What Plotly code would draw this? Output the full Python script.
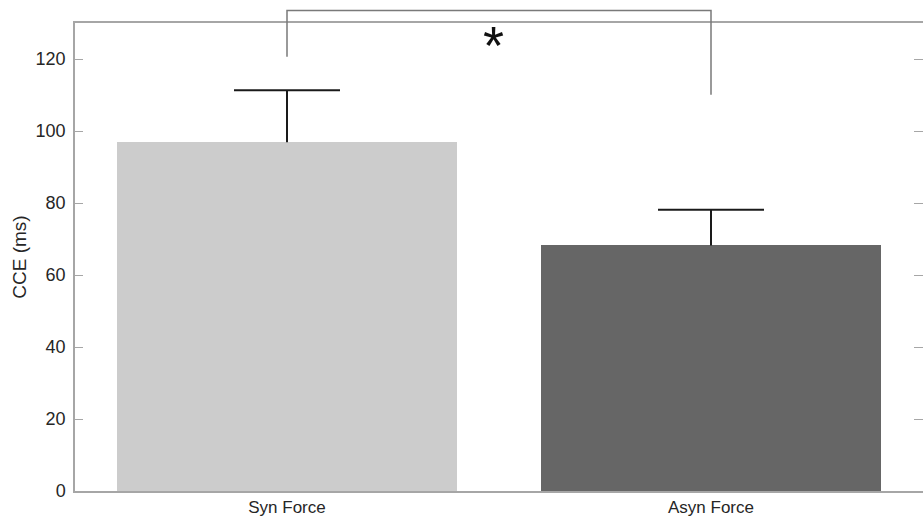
import plotly.graph_objects as go

categories = ["Syn Force", "Asyn Force"]
means = [96.9, 68.2]
errors = [14.4, 9.9]
bar_colors = ["#cccccc", "#666666"]
y_ticks = [0, 20, 40, 60, 80, 100, 120]
y_range = [0, 130]
x_range = [0.5, 2.5]
positions = [1, 2]
bracket_top = 133.5
bracket_left_bottom = 120.6
bracket_right_bottom = 110.1
star_label = "*"
star_pos = (1.486, 124.0)
cap_half = 0.125

FONT = "Liberation Sans, Arial, Helvetica, sans-serif"
AXIS_GRAY = "#a6a6a6"
TEXT = "#262626"

fig = go.Figure()
fig.add_trace(go.Bar(
    x=positions, y=means, width=0.8,
    marker=dict(color=bar_colors, line=dict(width=0)),
    showlegend=False, hoverinfo="skip",
))

# upward error bars (stem + cap), built from the data arrays
ex, ey = [], []
for p, m, e in zip(positions, means, errors):
    ex += [p, p, None, p - cap_half, p + cap_half, None]
    ey += [m, m + e, None, m + e, m + e, None]
fig.add_trace(go.Scatter(x=ex, y=ey, mode="lines", line=dict(color="#1a1a1a", width=2),
                         showlegend=False, hoverinfo="skip"))

# invisible trace to activate right-hand tick axis
fig.add_trace(go.Scatter(x=positions, y=means, yaxis="y2", mode="markers",
                         marker=dict(opacity=0), showlegend=False, hoverinfo="skip"))

def xd(v):
    return (v - x_range[0]) / (x_range[1] - x_range[0])

def yd(v):
    return (v - y_range[0]) / (y_range[1] - y_range[0])

bracket_color = "#7a7a7a"
fig.add_shape(type="path", xref="x domain", yref="y domain",
              path=(f"M {xd(positions[0])} {yd(bracket_left_bottom)} "
                    f"L {xd(positions[0])} {yd(bracket_top)} "
                    f"L {xd(positions[1])} {yd(bracket_top)} "
                    f"L {xd(positions[1])} {yd(bracket_right_bottom)}"),
              line=dict(color=bracket_color, width=1.5))

fig.add_annotation(x=star_pos[0], y=star_pos[1], xref="x", yref="y", text=star_label,
                   showarrow=False, font=dict(size=54, color="#111111", family=FONT),
                   xanchor="center", yanchor="middle")

fig.update_layout(
    width=923, height=516,
    margin=dict(l=75, r=0, t=23, b=25),
    paper_bgcolor="white", plot_bgcolor="white",
    font=dict(family=FONT, color=TEXT, size=17),
    bargap=0,
    xaxis=dict(range=x_range, tickmode="array", tickvals=positions, ticktext=categories,
               showline=True, linecolor=AXIS_GRAY, linewidth=1.5, mirror=True,
               ticks="", showgrid=False, zeroline=False, layer="below traces",
               automargin=False,
               tickfont=dict(size=17, color=TEXT, family=FONT)),
    yaxis=dict(range=y_range, tickmode="array", tickvals=y_ticks,
               showline=True, linecolor=AXIS_GRAY, linewidth=1.5,
               ticks="inside", ticklen=8, tickcolor=AXIS_GRAY, tickwidth=1.2,
               ticklabelstandoff=4,
               showgrid=False, zeroline=False, layer="below traces",
               automargin=False,
               title=dict(text="CCE (ms)", font=dict(size=19, color=TEXT, family=FONT), standoff=4),
               tickfont=dict(size=18, color=TEXT, family=FONT)),
    yaxis2=dict(range=y_range, overlaying="y", side="right", tickmode="array", tickvals=y_ticks,
                showline=False, ticks="inside", ticklen=9, tickcolor=AXIS_GRAY, tickwidth=1.2,
                showticklabels=False, showgrid=False, zeroline=False, automargin=False),
)

fig.write_html("out.html", config={"displayModeBar": False},
               post_script="document.body.style.margin='0';")
